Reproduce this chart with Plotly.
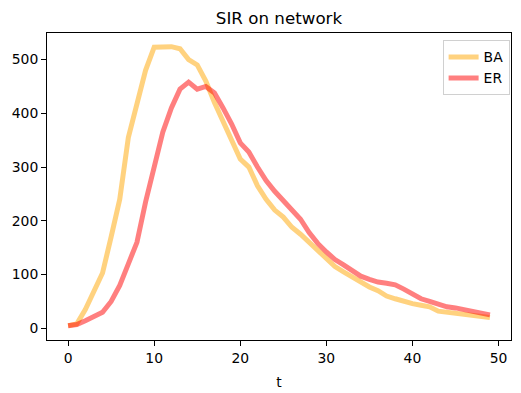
import plotly.graph_objects as go

t = list(range(50))
ba = [5, 8, 35, 70, 103, 170, 240, 355, 420, 480,
      523, 523, 524, 520, 500, 490, 460, 420, 385, 355,
      315, 300, 265, 240, 220, 207, 188, 175, 160, 145,
      130, 115, 105, 95, 85, 77, 70, 60, 55, 50,
      46, 43, 40, 32, 30, 28, 25, 23, 22, 20]
er = [5, 7, 14, 22, 30, 50, 80, 120, 160, 235,
      305, 365, 410, 445, 458, 445, 450, 438, 410, 380,
      345, 328, 300, 275, 255, 237, 218, 203, 178, 158,
      142, 128, 118, 107, 97, 91, 86, 84, 81, 73,
      63, 55, 50, 44, 40, 38, 35, 30, 29, 25]
x_ticks = [0, 10, 20, 30, 40, 50]
y_ticks = [0, 100, 200, 300, 400, 500]

font = "DejaVu Sans"
fig = go.Figure()
fig.add_trace(go.Scatter(x=t, y=ba, mode="lines", name="BA",
                         line=dict(color="rgba(255,165,0,0.5)", width=5)))
fig.add_trace(go.Scatter(x=t, y=er, mode="lines", name="ER",
                         line=dict(color="rgba(255,0,0,0.5)", width=5)))

axis_common = dict(showgrid=False, zeroline=False, showline=True, linecolor="black",
                   linewidth=1, mirror=True, ticks="outside", ticklen=5, tickwidth=1,
                   tickcolor="black", automargin=False,
                   tickfont=dict(family=font, size=13.9, color="black"))
# page has an 8px body margin, so the figure is sized/offset to compensate
fig.update_layout(
    width=513, height=385,
    margin=dict(l=39, r=10, t=25, b=53),
    paper_bgcolor="white", plot_bgcolor="white",
    title=dict(text="SIR on network", x=0.5, xref="paper", y=0.974, yanchor="middle",
               font=dict(family=font, size=16.7, color="black"), automargin=False),
    xaxis=dict(range=[-2.45, 51.45], tickvals=x_ticks,
               title=dict(text="t", font=dict(family=font, size=13.9, color="black"), standoff=12),
               **axis_common),
    yaxis=dict(range=[-21.7, 549.4], tickvals=y_ticks, **axis_common),
    legend=dict(x=0.997, y=0.976, xanchor="right", yanchor="top",
                bordercolor="#d0d0d0", borderwidth=1, bgcolor="rgba(255,255,255,0.8)",
                font=dict(family=font, size=13.9, color="black"), itemwidth=30,
                tracegroupgap=0),
    showlegend=True,
)
fig.write_html("out.html")
